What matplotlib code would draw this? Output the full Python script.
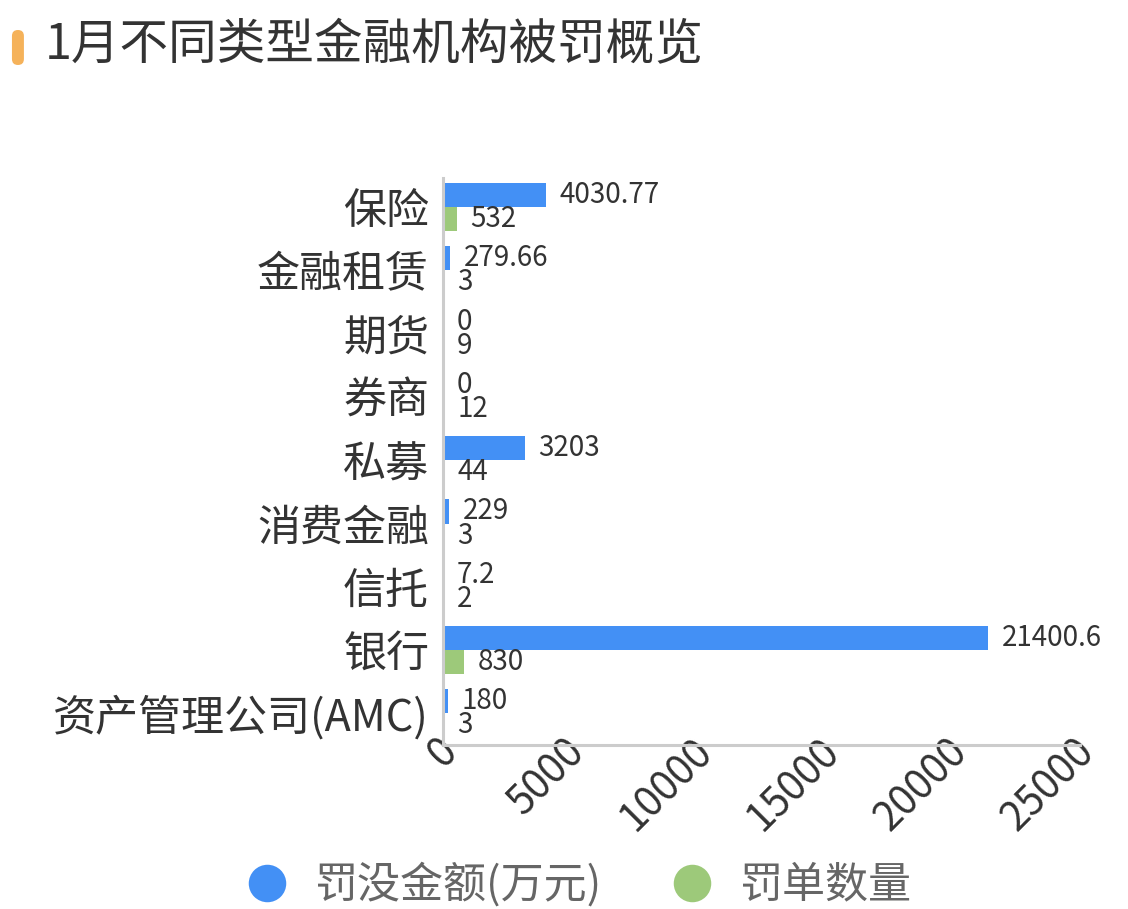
import matplotlib
matplotlib.use("Agg")
import matplotlib.pyplot as plt
import matplotlib.transforms as mtrans
from matplotlib.patches import FancyBboxPatch
from matplotlib.lines import Line2D
import numpy as np

plt.rcParams['font.family'] = ['Noto Sans CJK SC', 'DejaVu Sans']

# data
categories = ["保险", "金融租赁", "期货", "券商", "私募", "消费金融", "信托", "银行", "资产管理公司(AMC)"]
fine_amount = [4030.77, 279.66, 0, 0, 3203, 229, 7.2, 21400.6, 180]
ticket_count = [532, 3, 9, 12, 44, 3, 2, 830, 3]
amount_labels = ["4030.77", "279.66", "0", "0", "3203", "229", "7.2", "21400.6", "180"]
series_names = ["罚没金额(万元)", "罚单数量"]
x_ticks = [0, 5000, 10000, 15000, 20000, 25000]

BLUE = "#4390F5"
GREEN = "#9DC97A"
TXT = "#333333"

fig = plt.figure(figsize=(11.28, 9.09), dpi=100)
ax = fig.add_axes([0.3927, 0.1804, 0.5647, 0.6238])

y = np.arange(len(categories))
h = 0.38
b1 = ax.barh(y - h / 2, fine_amount, height=h, color=BLUE)
b2 = ax.barh(y + h / 2, ticket_count, height=h, color=GREEN)
ax.bar_label(b1, labels=amount_labels, padding=10, fontsize=20, color=TXT)
ax.bar_label(b2, labels=[str(v) for v in ticket_count], padding=10, fontsize=20, color=TXT)

ax.set_xlim(0, 25000)
ax.set_ylim(8.5, -0.46)
ax.set_yticks(y)
ax.set_yticklabels(categories, fontsize=31, color=TXT)
ax.set_xticks(x_ticks)
ax.set_xticklabels([str(t) for t in x_ticks], fontsize=29, color=TXT,
                   rotation=45, ha="right", va="center", rotation_mode="anchor")
ax.tick_params(axis="both", length=0)
ax.tick_params(axis="y", pad=10)
ax.tick_params(axis="x", pad=0)
# nudge the rotated labels a little to the right
shift = mtrans.ScaledTranslation(8 / 100, 0, fig.dpi_scale_trans)
for lbl in ax.get_xticklabels():
    lbl.set_transform(lbl.get_transform() + shift)

for s in ["top", "right"]:
    ax.spines[s].set_visible(False)
for s in ["left", "bottom"]:
    ax.spines[s].set_color("#CCCCCC")
    ax.spines[s].set_linewidth(2.2)

# title with orange marker
fig.text(0.040, 0.950, "1月不同类型金融机构被罚概览", fontsize=35, color=TXT, va="center", ha="left")
fig.patches.append(FancyBboxPatch((0.0106, 0.9285), 0.0106, 0.0385, boxstyle="round,pad=0,rounding_size=0.0053",
                                  transform=fig.transFigure, facecolor="#F5B25A", edgecolor="none",
                                  mutation_aspect=1128 / 909))

handles = [Line2D([], [], marker="o", linestyle="none", markersize=27, markerfacecolor=c, markeredgecolor="none")
           for c in (BLUE, GREEN)]
leg = fig.legend(handles, series_names, loc="center", bbox_to_anchor=(0.513, 0.026), ncol=2, frameon=False,
                 fontsize=31, handlelength=1.0, handletextpad=0.6, columnspacing=1.6)
for t in leg.get_texts():
    t.set_color("#666666")

fig.savefig("out.png", dpi=100)
